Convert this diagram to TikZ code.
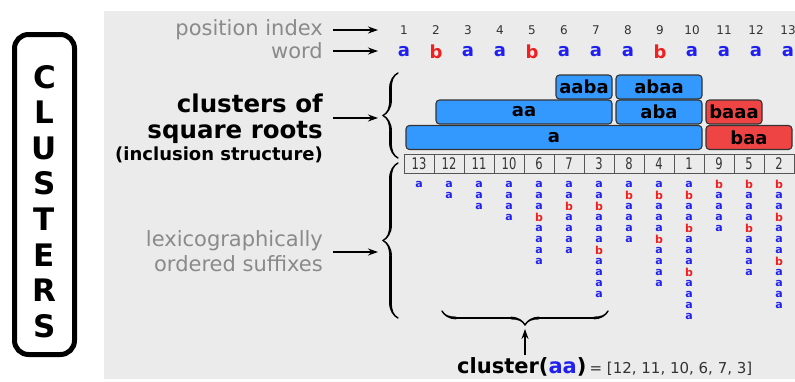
\documentclass[tikz,border=0pt]{standalone}
\usepackage{fontspec}
\setmainfont{DejaVu Sans}
\newfontfamily\condfont[FakeStretch=0.72]{DejaVu Sans}
\usepackage{xcolor}
\usepackage{tikz}
\usetikzlibrary{arrows.meta,decorations.pathreplacing,calligraphy}

\definecolor{bggray}{HTML}{EBEBEB}
\definecolor{labgray}{HTML}{8A8A8A}
\definecolor{numgray}{HTML}{333333}
\definecolor{sqblue}{HTML}{3399FF}
\definecolor{sqred}{HTML}{EE4444}
\definecolor{boxline}{HTML}{333333}
\definecolor{cellline}{HTML}{555555}
\definecolor{letblue}{HTML}{2020EE}
\definecolor{letred}{HTML}{EE2020}

\newcommand{\la}{\textcolor{letblue}{a}}
\newcommand{\lb}{\textcolor{letred}{b}}
% letter of the word at position #1
\newcommand{\letterat}[1]{\ifcase#1\or\la\or\lb\or\la\or\la\or\lb\or\la\or\la\or\la\or\lb\or\la\or\la\or\la\or\la\fi}

\begin{document}
\begin{tikzpicture}[x=1pt,y=-1pt]
	\tikzstyle{every node}+=[inner sep=0pt]
	\tikzstyle{graylab}=[text=labgray,font=\fontsize{21}{21}\selectfont]
	\tikzstyle{sqbox}=[draw=boxline,line width=1.1pt,rounded corners=3.5pt,minimum height=24,font=\fontsize{18}{18}\bfseries]
	\tikzstyle{sacell}=[draw=cellline,line width=0.8pt,minimum width=30,minimum height=19,font=\condfont\fontsize{16}{16}\selectfont,text=numgray]
	\tikzstyle{suf}=[font=\fontsize{11}{11}\bfseries]
	\tikzstyle{lbl}=[-{Stealth[length=10pt,width=7pt]},line width=1.2pt]
	\tikzstyle{brc}=[decorate,line width=2.8pt]
	\useasboundingbox (0,0) rectangle (795,381);
	\fill [bggray] (104,11) rectangle (795,379);
	% title box
	\draw [line width=5pt,rounded corners=14pt] (14.5,34.5) rectangle (74.5,354.5);
	\node [align=center,font=\fontsize{31}{35.6}\bfseries] (title) at (44.5,201.5) {C\\L\\U\\S\\T\\E\\R\\S};
	% word and positions
	\foreach \i in {1,...,13} {
		\node [font=\fontsize{12}{12}\selectfont,text=numgray] (pos-\i) at ({404+32*(\i-1)},30) {\i};
		\node [font=\fontsize{18}{18}\bfseries] (w-\i) at ({404+32*(\i-1)},52) {\letterat{\i}};
	}
	\node [graylab,anchor=east] (posl) at (323,30) {position index};
	\node [graylab,anchor=east] (wordl) at (323,51) {word};
	\coordinate (posa) at (378,30);
	\coordinate (worda) at (378,51);
	\draw [lbl,shorten <=10pt] (posl.east) -- (posa);
	\draw [lbl,shorten <=10pt] (wordl.east) -- (worda);
	% clusters of square roots
	\foreach \cx/\cy/\w/\col/\t in {554/137.5/296/sqblue/a, 524/112/176/sqblue/aa, 584/87/56/sqblue/aaba,
		659/87/86/sqblue/abaa, 659/112/86/sqblue/aba, 734/112/56/sqred/baaa, 749/137.5/86/sqred/baa}
		\node [sqbox,fill=\col,minimum width=\w] (sq-\t) at (\cx,\cy) {\t};
	% suffix array and suffixes
	\foreach \s [count=\k from 0] in {13,12,11,10,6,7,3,8,4,1,9,5,2} {
		\node [sacell] (sa-\s) at ({419+30*\k},163.5) {\s};
		\foreach \p in {\s,...,13}
			\node [suf] (suf-\s-\p) at ({419+30*\k},{184+11*(\p-\s)}) {\letterat{\p}};
	}
	% left labels
	\node [anchor=east,font=\fontsize{24.5}{24.5}\bfseries] (clul1) at (323,103) {clusters of};
	\node [anchor=east,font=\fontsize{24.5}{24.5}\bfseries] (clul2) at (323,132) {square roots};
	\node [anchor=east,font=\fontsize{18}{18}\bfseries] (clul3) at (323,155) {(inclusion structure)};
	\coordinate (clus) at (333,118);
	\coordinate (clue) at (378,118);
	\draw [lbl] (clus) -- (clue);
	\draw [brc,decoration={calligraphic brace,amplitude=15pt}] (398,158) -- (398,73);
	\node [graylab,anchor=east] (lexl1) at (323,241) {lexicographically};
	\node [graylab,anchor=east] (lexl2) at (323,264) {ordered suffixes};
	\coordinate (lexs) at (333,252);
	\coordinate (lexe) at (378,252);
	\draw [lbl] (lexs) -- (lexe);
	\draw [brc,decoration={calligraphic brace,amplitude=15pt}] (398,318) -- (398,163);
	% cluster(aa)
	\draw [brc,decoration={calligraphic brace,amplitude=14pt}] (608,311) -- (442,311);
	\node [anchor=base west] (clt) at (457,373) {{\fontsize{21}{21}\bfseries cluster(\textcolor{letblue}{aa})} {\fontsize{15}{15}\selectfont\color{numgray}= [12, 11, 10, 6, 7, 3]}};
	\coordinate (clta) at (525,355);
	\coordinate (brtip) at (525,329);
	\draw [lbl] (clta) -- (brtip);
\end{tikzpicture}
\end{document}
